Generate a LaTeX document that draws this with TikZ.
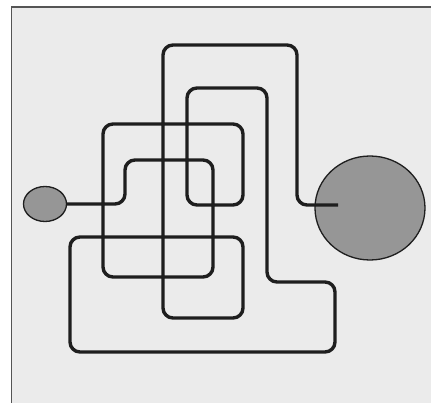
\documentclass[tikz,border=0pt]{standalone}
\usetikzlibrary{shapes.geometric}
\definecolor{panelgray}{RGB}{235, 235, 235}
\definecolor{framegray}{RGB}{85, 85, 85}
\definecolor{blobgray}{RGB}{150, 150, 150}
\definecolor{wireblack}{RGB}{30, 30, 30}

\begin{document}
\begin{tikzpicture}[
  x=1pt, y=-1pt,
  blob/.style={draw=wireblack, ellipse, fill=blobgray, line width=1.3pt, inner sep=0pt},
  wire/.style={draw=wireblack, line width=3.4pt, rounded corners=10pt}
]
  \useasboundingbox (0,0) rectangle (431,403);
  \fill[white] (0,0) rectangle (431,403);
  \fill[panelgray] (11.5,7) rectangle (431,403);
  \draw[framegray, line width=1.6pt] (11.5,403) -- (11.5,7) -- (431,7);

  \node[blob, minimum width=43pt, minimum height=35pt] (src) at (45,204) {};
  \node[blob, minimum width=110pt, minimum height=104pt] (sink) at (370,208) {};
  \coordinate (tail) at (338,205);

  \draw[wire] (src.east) -- (125,204) -- (125,160) -- (213,160) -- (213,277)
    -- (103,277) -- (103,124) -- (243,124) -- (243,205) -- (187,205)
    -- (187,88) -- (267,88) -- (267,282) -- (335,282) -- (335,352)
    -- (70,352) -- (70,237) -- (243,237) -- (243,318) -- (163,318)
    -- (163,45) -- (297,45) -- (297,205) -- (tail);
\end{tikzpicture}
\end{document}
